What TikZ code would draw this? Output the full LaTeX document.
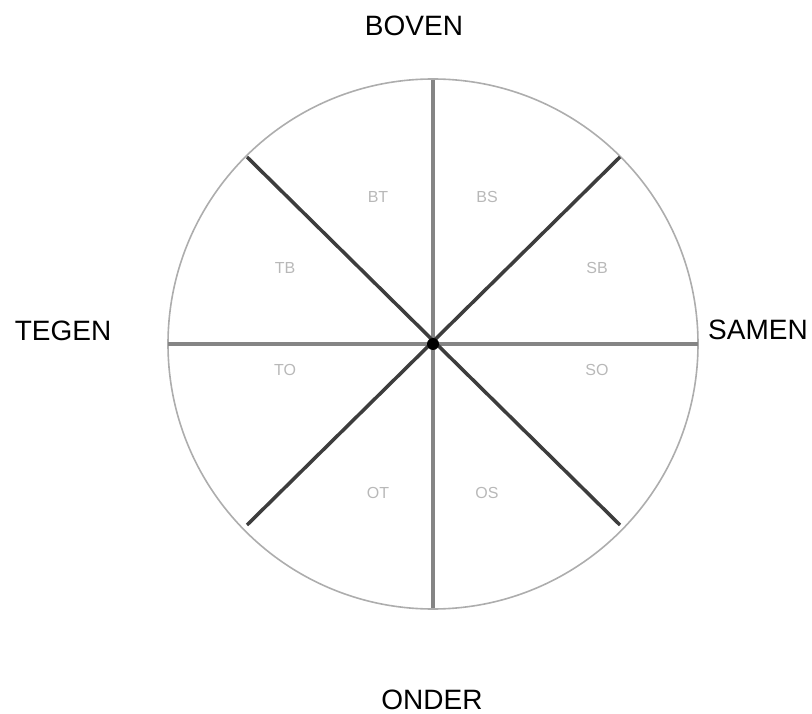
\documentclass[tikz,border=0pt]{standalone}
\usepackage{fontspec}
\setmainfont{Liberation Sans}
\usetikzlibrary{positioning}

\begin{document}
\begin{tikzpicture}[
  x=1pt, y=-1pt,
  dir/.style={font=\fontsize{28}{32}\selectfont, inner sep=0pt},
  oct/.style={font=\fontsize{16}{18}\selectfont, text=black!28, inner sep=0pt},
  axis/.style={draw=black!48, line width=4.5pt},
  diag/.style={draw=black!76, line width=3.5pt},
  rim/.style={draw=black!32, line width=1.6pt},
]
\useasboundingbox (0,0) rectangle (812,714);
% Centre and rim points
\coordinate (c) at (433,344);
\coordinate (n) at (433,80);
\coordinate (s) at (433,608);
\coordinate (w) at (168,344);
\coordinate (e) at (698,344);
\coordinate (nw) at (247,157);
\coordinate (ne) at (620,157);
\coordinate (sw) at (247,525);
\coordinate (se) at (620,525);
% Circle
\draw[rim] (c) circle[radius=265];
% Axes
\draw[axis] (n) -- (s);
\draw[axis] (w) -- (e);
% Diagonals
\draw[diag] (nw) -- (se);
\draw[diag] (ne) -- (sw);
\fill[black] (c) circle[radius=6];
% Directions
\node[dir] (boven) at (414,26) {BOVEN};
\node[dir] (onder) at (432,700) {ONDER};
\node[dir] (tegen) at (63,331) {TEGEN};
\node[dir] (samen) at (758,330) {SAMEN};
% Octants
\node[oct] (bt) at (378,197) {BT};
\node[oct] (bs) at (487,197) {BS};
\node[oct] (tb) at (285,268) {TB};
\node[oct] (sb) at (597,268) {SB};
\node[oct] (to) at (285,370) {TO};
\node[oct] (so) at (597,370) {SO};
\node[oct] (ot) at (378,493) {OT};
\node[oct] (os) at (487,493) {OS};
\end{tikzpicture}
\end{document}
